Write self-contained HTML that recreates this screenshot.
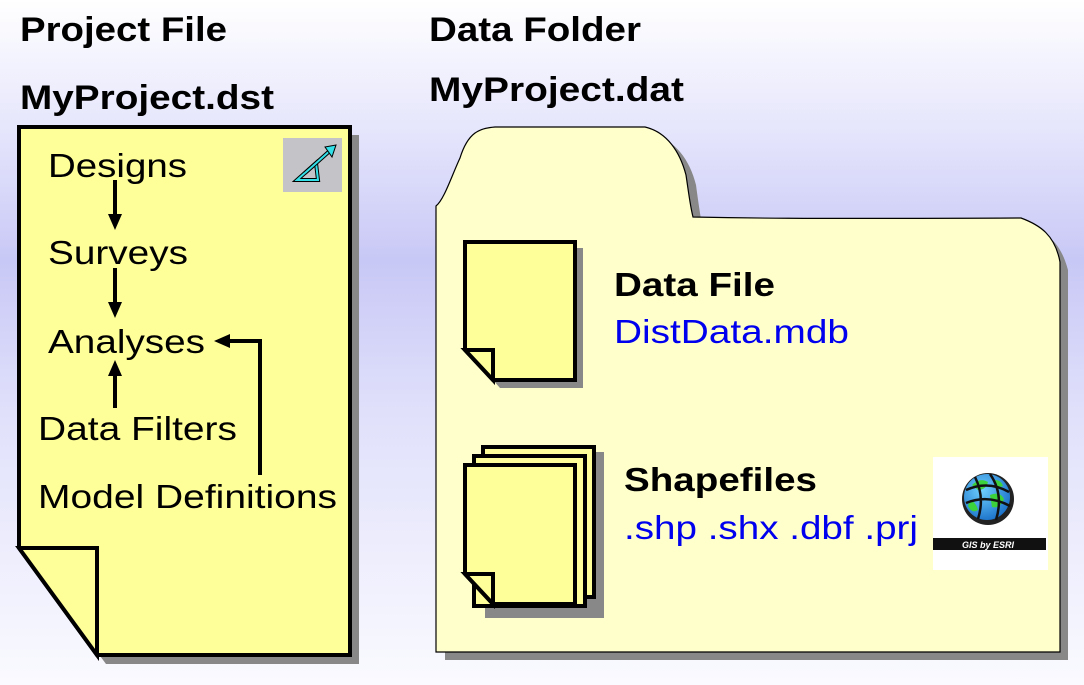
<!DOCTYPE html>
<html><head><meta charset="utf-8"><style>
html,body{margin:0;padding:0;width:1084px;height:685px;overflow:hidden;}
body{background:linear-gradient(to bottom,#ffffff 0%,#e4e4fc 20%,#c8c8f6 38%,#e0e0fb 60%,#fafaff 100%);}
svg{position:absolute;left:0;top:0;}
text{font-family:"Liberation Sans",Arial,sans-serif;}
</style></head><body>
<svg width="1084" height="685" viewBox="0 0 1084 685">
<defs>
<marker id="ah" markerWidth="16" markerHeight="14" refX="8" refY="7" orient="auto" markerUnits="userSpaceOnUse">
<path d="M0,0 L16,7 L0,14 Z" fill="#000"/></marker>
<radialGradient id="gl" cx="0.4" cy="0.35" r="0.7"><stop offset="0" stop-color="#6fd0ff"/><stop offset="1" stop-color="#1a70c8"/></radialGradient>
</defs>
<!-- headings -->
<text x="20" y="41" font-size="34" font-weight="bold" textLength="207" lengthAdjust="spacingAndGlyphs">Project File</text>
<text x="20" y="109" font-size="34" font-weight="bold" textLength="254" lengthAdjust="spacingAndGlyphs">MyProject.dst</text>
<text x="429" y="41" font-size="34" font-weight="bold" textLength="212" lengthAdjust="spacingAndGlyphs">Data Folder</text>
<text x="429" y="101" font-size="34" font-weight="bold" textLength="255" lengthAdjust="spacingAndGlyphs">MyProject.dat</text>

<!-- left document -->
<path d="M27,135 L359,135 L359,664 L106,664 L27,557 Z" fill="#888"/>
<path d="M19,127 L350,127 L350,655 L97,655 L19,548 Z" fill="#ffff99" stroke="#000" stroke-width="4" stroke-linejoin="miter"/>
<path d="M19,548 L97,548 L97,655 Z" fill="#ffff99" stroke="#000" stroke-width="4"/>
<rect x="283" y="138" width="59" height="54" fill="#c4c4c8"/>
<path d="M297,180 L316,163 L318,180 Z" fill="none" stroke="#000" stroke-width="4"/>
<path d="M297,180 L316,163 L318,180 Z" fill="none" stroke="#33e0e8" stroke-width="2"/>
<path d="M305,173 L333,148" stroke="#000" stroke-width="4"/>
<path d="M305,173 L333,148" stroke="#33e0e8" stroke-width="2"/>
<path d="M325,147 L336,145 L332,157 Z" fill="#33e0e8" stroke="#000" stroke-width="1"/>

<text x="48" y="177" font-size="33" textLength="139" lengthAdjust="spacingAndGlyphs">Designs</text>
<text x="48" y="264" font-size="33" textLength="140" lengthAdjust="spacingAndGlyphs">Surveys</text>
<text x="48" y="353" font-size="33" textLength="157" lengthAdjust="spacingAndGlyphs">Analyses</text>
<text x="38" y="440" font-size="33" textLength="199" lengthAdjust="spacingAndGlyphs">Data Filters</text>
<text x="38" y="508" font-size="33" textLength="299" lengthAdjust="spacingAndGlyphs">Model Definitions</text>
<line x1="115" y1="180" x2="115" y2="222" stroke="#000" stroke-width="4" marker-end="url(#ah)"/>
<line x1="115" y1="268" x2="115" y2="310" stroke="#000" stroke-width="4" marker-end="url(#ah)"/>
<line x1="115" y1="408" x2="115" y2="368" stroke="#000" stroke-width="4" marker-end="url(#ah)"/>
<polyline points="260,475 260,341 222,341" fill="none" stroke="#000" stroke-width="4" marker-end="url(#ah)"/>

<!-- folder -->
<path d="M445,215 C452,205 460,180 470,165 C478,140 490,136 505,135 L653,135 C675,140 690,160 696,185 C698,200 700,214 702,225 C750,226 800,226 1027,225 C1045,232 1060,240 1068,270 L1068,660 L445,660 Z" fill="#888"/>
<path d="M436,206 C444,200 452,175 460,158 C468,132 480,128 495,127 L645,127 C667,132 680,152 686,175 C689,195 690,205 693,217 C740,218 790,219 1021,218 C1040,225 1055,235 1060,262 L1060,652 L436,652 Z" fill="#ffffcc" stroke="#000" stroke-width="1.2"/>

<!-- data file icon -->
<path d="M473,248 L583,248 L583,388 L500,388 L473,357 Z" fill="#888"/>
<path d="M465,242 L575,242 L575,380 L493,380 L465,350 Z" fill="#ffff99" stroke="#000" stroke-width="4"/>
<path d="M465,350 L493,350 L493,380 Z" fill="#ffff99" stroke="#000" stroke-width="4"/>
<text x="614" y="296" font-size="33" font-weight="bold" textLength="161" lengthAdjust="spacingAndGlyphs">Data File</text>
<text x="614" y="343" font-size="33" fill="#0000ee" textLength="235" lengthAdjust="spacingAndGlyphs">DistData.mdb</text>

<!-- shapefiles icons -->
<path d="M485,452 L604,452 L604,618 L485,618 Z" fill="#888"/>
<rect x="483" y="447" width="111" height="150" fill="#ffff99" stroke="#000" stroke-width="4"/>
<rect x="474" y="456" width="111" height="150" fill="#ffff99" stroke="#000" stroke-width="4"/>
<path d="M465,465 L575,465 L575,604 L493,604 L465,574 Z" fill="#ffff99" stroke="#000" stroke-width="4"/>
<path d="M465,574 L493,574 L493,604 Z" fill="#ffff99" stroke="#000" stroke-width="4"/>
<text x="624" y="491" font-size="33" font-weight="bold" textLength="193" lengthAdjust="spacingAndGlyphs">Shapefiles</text>
<text x="624" y="539" font-size="33" fill="#0000ee" textLength="294" lengthAdjust="spacingAndGlyphs">.shp .shx .dbf .prj</text>

<!-- ESRI logo -->
<rect x="933" y="457" width="115" height="113" fill="#fff"/>
<circle cx="988" cy="499" r="26" fill="#222"/>
<circle cx="987" cy="497" r="23" fill="url(#gl)"/>
<path d="M972,485 q8,-8 16,-3 q-2,8 -10,8 z M990,495 q10,-4 14,4 q-4,10 -12,8 z M970,500 q6,2 8,10 q-6,4 -10,-4 z M995,480 q6,0 8,6 l-6,2 z" fill="#3cd23c"/>
<path d="M966,490 Q988,480 1009,492 M966,503 Q988,494 1010,506 M975,477 Q985,497 978,519 M990,474 Q1004,494 996,520" fill="none" stroke="#111" stroke-width="2.5"/>
<rect x="933" y="538" width="113" height="12" fill="#111"/>
<text x="988" y="548" font-size="9" font-weight="bold" font-style="italic" fill="#fff" text-anchor="middle">GIS by ESRI</text>
</svg>
</body></html>
